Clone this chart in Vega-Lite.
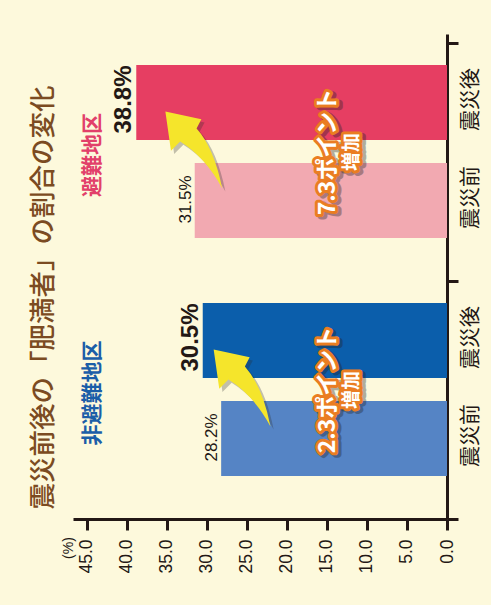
{
  "$schema": "https://vega.github.io/schema/vega-lite/v6.json",
  "width": 374,
  "height": 485,
  "autosize": {"type": "none"},
  "padding": {"left": 73, "top": 34, "right": 44, "bottom": 86},
  "background": "#fdf9dc",
  "config": {"view": {"stroke": null}, "axis": {"grid": false}, "font": "Liberation Sans"},
  "title": {
    "text": "震災前後の「肥満者」の割合の変化",
    "orient": "left",
    "anchor": "middle",
    "font": "Noto Sans CJK JP",
    "fontSize": 26.5,
    "fontWeight": 500,
    "color": "#7b4b22",
    "dx": -21
  },
  "datasets": {
    "bars": [
      {"group": "避難地区", "period": "震災後", "series": "避難地区 震災後", "value": 38.8, "label": "38.8%"},
      {"group": "避難地区", "period": "震災前", "series": "避難地区 震災前", "value": 31.5, "label": "31.5%"},
      {"group": "非避難地区", "period": "震災後", "series": "非避難地区 震災後", "value": 30.5, "label": "30.5%"},
      {"group": "非避難地区", "period": "震災前", "series": "非避難地区 震災前", "value": 28.2, "label": "28.2%"}
    ],
    "groups": [
      {"group": "避難地区", "diff": "7.3ポイント", "inc": "増加"},
      {"group": "非避難地区", "diff": "2.3ポイント", "inc": "増加"}
    ]
  },
  "resolve": {"scale": {"color": "independent"}},
  "layer": [
    {
      "data": {"name": "bars"},
      "mark": {"type": "bar"},
      "encoding": {
        "x": {
          "field": "value", "type": "quantitative",
          "scale": {"domain": [0, 46.7], "reverse": true, "nice": false, "zero": true},
          "axis": {
            "orient": "bottom", "values": [0, 5, 10, 15, 20, 25, 30, 35, 40, 45], "format": ".1f",
            "labelAngle": -90, "labelFontSize": 17.5, "labelColor": "#231815", "labelFont": "Liberation Sans",
            "labelPadding": 9, "labelFlush": false, "labelOverlap": false,
            "tickSize": 11, "tickWidth": 3, "tickColor": "#231815",
            "domainWidth": 3, "domainColor": "#231815",
            "title": "(%)", "titleAngle": 270, "titleX": -4.5, "titleY": 28.5,
            "titleAlign": "center", "titleBaseline": "middle", "titleFontSize": 14,
            "titleFontWeight": "normal", "titleColor": "#231815", "titleFont": "Liberation Sans"
          }
        },
        "y": {
          "field": "group", "type": "nominal",
          "scale": {"domain": ["避難地区", "非避難地区"], "paddingInner": 0, "paddingOuter": 0.0189, "align": 1},
          "axis": {
            "orient": "right", "labels": false, "title": null, "tickBand": "extent",
            "tickSize": 11, "tickWidth": 3, "tickColor": "#231815",
            "domainWidth": 3, "domainColor": "#231815"
          }
        },
        "yOffset": {
          "field": "period", "type": "nominal",
          "scale": {"domain": ["震災後", "震災前"], "paddingInner": 0.2347, "paddingOuter": 0.3316, "align": 0.338}
        },
        "color": {
          "field": "series", "type": "nominal", "legend": null,
          "scale": {
            "domain": ["避難地区 震災後", "避難地区 震災前", "非避難地区 震災後", "非避難地区 震災前"],
            "range": ["#e63e62", "#f2a9b1", "#0b5eab", "#5584c5"]
          }
        }
      }
    },
    {
      "data": {"name": "groups"},
      "mark": {"type": "point", "filled": true, "opacity": 0.28, "color": "#2a2a2a", "strokeWidth": 0, "size": 6400,
        "shape": "M-0.62,-1.18 L0.28,-0.99 L0.16,-0.76 Q0.60,-0.27 0.80,0.74 Q0.38,-0.04 -0.25,-0.43 L-0.48,-0.20 Z"},
      "encoding": {
        "x": {"datum": 31.67, "type": "quantitative"},
        "y": {"field": "group", "type": "nominal"}
      },
      "transform": [{"filter": "datum.group == '避難地区'"}]
    },
    {
      "data": {"name": "groups"},
      "mark": {"type": "point", "filled": true, "opacity": 0.28, "color": "#2a2a2a", "strokeWidth": 0, "size": 6400,
        "shape": "M-0.62,-1.18 L0.28,-0.99 L0.16,-0.76 Q0.60,-0.27 0.80,0.74 Q0.38,-0.04 -0.25,-0.43 L-0.48,-0.20 Z"},
      "encoding": {
        "x": {"datum": 25.64, "type": "quantitative"},
        "y": {"field": "group", "type": "nominal"}
      },
      "transform": [{"filter": "datum.group == '非避難地区'"}]
    },
    {
      "data": {"name": "groups"},
      "mark": {"type": "point", "filled": true, "opacity": 1, "color": "#f5e52b", "strokeWidth": 0, "size": 6400,
        "shape": "M-0.70,-1.26 L0.20,-1.07 L0.08,-0.84 Q0.52,-0.35 0.72,0.66 Q0.30,-0.12 -0.33,-0.51 L-0.56,-0.28 Z"},
      "encoding": {
        "x": {"datum": 31.67, "type": "quantitative"},
        "y": {"field": "group", "type": "nominal"}
      },
      "transform": [{"filter": "datum.group == '避難地区'"}]
    },
    {
      "data": {"name": "groups"},
      "mark": {"type": "point", "filled": true, "opacity": 1, "color": "#f5e52b", "strokeWidth": 0, "size": 6400,
        "shape": "M-0.70,-1.26 L0.20,-1.07 L0.08,-0.84 Q0.52,-0.35 0.72,0.66 Q0.30,-0.12 -0.33,-0.51 L-0.56,-0.28 Z"},
      "encoding": {
        "x": {"datum": 25.64, "type": "quantitative"},
        "y": {"field": "group", "type": "nominal"}
      },
      "transform": [{"filter": "datum.group == '非避難地区'"}]
    },
    {
      "data": {"name": "groups"},
      "mark": {"type": "text", "angle": 270, "align": "center", "baseline": "middle", "dx": 8, "dy": 3,
        "font": "Noto Sans CJK JP", "fontWeight": "bold", "fontSize": 23, "color": "#222222", "opacity": 0.35,
        "stroke": "#222222", "strokeWidth": 7, "strokeJoin": "round"},
      "encoding": {"x": {"datum": 14.8, "type": "quantitative"}, "y": {"field": "group", "type": "nominal"}, "text": {"field": "diff"}}
    },
    {
      "data": {"name": "groups"},
      "mark": {"type": "text", "angle": 270, "align": "center", "baseline": "middle", "dx": 8, "dy": 3,
        "font": "Noto Sans CJK JP", "fontWeight": "bold", "fontSize": 19, "color": "#222222", "opacity": 0.35,
        "stroke": "#222222", "strokeWidth": 7, "strokeJoin": "round"},
      "encoding": {"x": {"datum": 11.8, "type": "quantitative"}, "y": {"field": "group", "type": "nominal"}, "text": {"field": "inc"}}
    },
    {
      "data": {"name": "groups"},
      "mark": {"type": "text", "angle": 270, "align": "center", "baseline": "middle", "dx": 10,
        "font": "Noto Sans CJK JP", "fontWeight": "bold", "fontSize": 23, "color": "#ea7d22",
        "stroke": "#ea7d22", "strokeWidth": 6, "strokeJoin": "round"},
      "encoding": {"x": {"datum": 14.8, "type": "quantitative"}, "y": {"field": "group", "type": "nominal"}, "text": {"field": "diff"}}
    },
    {
      "data": {"name": "groups"},
      "mark": {"type": "text", "angle": 270, "align": "center", "baseline": "middle", "dx": 10,
        "font": "Noto Sans CJK JP", "fontWeight": "bold", "fontSize": 19, "color": "#ea7d22",
        "stroke": "#ea7d22", "strokeWidth": 6, "strokeJoin": "round"},
      "encoding": {"x": {"datum": 11.8, "type": "quantitative"}, "y": {"field": "group", "type": "nominal"}, "text": {"field": "inc"}}
    },
    {
      "data": {"name": "groups"},
      "mark": {"type": "text", "angle": 270, "align": "center", "baseline": "middle", "dx": 10,
        "font": "Noto Sans CJK JP", "fontWeight": "bold", "fontSize": 23, "color": "#ffffff"},
      "encoding": {"x": {"datum": 14.8, "type": "quantitative"}, "y": {"field": "group", "type": "nominal"}, "text": {"field": "diff"}}
    },
    {
      "data": {"name": "groups"},
      "mark": {"type": "text", "angle": 270, "align": "center", "baseline": "middle", "dx": 10,
        "font": "Noto Sans CJK JP", "fontWeight": "bold", "fontSize": 19, "color": "#ffffff"},
      "encoding": {"x": {"datum": 11.8, "type": "quantitative"}, "y": {"field": "group", "type": "nominal"}, "text": {"field": "inc"}}
    },
    {
      "data": {"name": "bars"},
      "transform": [{"filter": "datum.period == '震災後'"}],
      "mark": {"type": "text", "angle": 270, "align": "center", "baseline": "bottom", "dx": 3,
        "font": "Liberation Sans", "fontWeight": "bold", "fontSize": 24, "color": "#231815"},
      "encoding": {
        "x": {"field": "value", "type": "quantitative"},
        "y": {"field": "group", "type": "nominal"},
        "yOffset": {"field": "period", "type": "nominal"},
        "text": {"field": "label"}
      }
    },
    {
      "data": {"name": "bars"},
      "transform": [{"filter": "datum.period == '震災前'"}],
      "mark": {"type": "text", "angle": 270, "align": "center", "baseline": "bottom", "dx": 1,
        "font": "Liberation Sans", "fontWeight": "normal", "fontSize": 17, "color": "#231815"},
      "encoding": {
        "x": {"field": "value", "type": "quantitative"},
        "y": {"field": "group", "type": "nominal"},
        "yOffset": {"field": "period", "type": "nominal"},
        "text": {"field": "label"}
      }
    },
    {
      "data": {"name": "bars"},
      "mark": {"type": "text", "angle": 270, "align": "center", "baseline": "middle", "dx": 3, "dy": 24,
        "font": "Noto Sans CJK JP", "fontWeight": "normal", "fontSize": 21, "color": "#231815"},
      "encoding": {
        "x": {"datum": 0, "type": "quantitative"},
        "y": {"field": "group", "type": "nominal"},
        "yOffset": {"field": "period", "type": "nominal"},
        "text": {"field": "period"}
      }
    },
    {
      "data": {"name": "groups"},
      "mark": {"type": "text", "angle": 270, "align": "center", "baseline": "middle", "dx": 7,
        "font": "Noto Sans CJK JP", "fontWeight": "bold", "fontSize": 21},
      "encoding": {
        "x": {"datum": 44.2, "type": "quantitative"},
        "y": {"field": "group", "type": "nominal"},
        "text": {"field": "group"},
        "color": {"field": "group", "type": "nominal", "legend": null,
          "scale": {"domain": ["避難地区", "非避難地区"], "range": ["#e2406a", "#1b5ea8"]}}
      }
    }
  ]
}
